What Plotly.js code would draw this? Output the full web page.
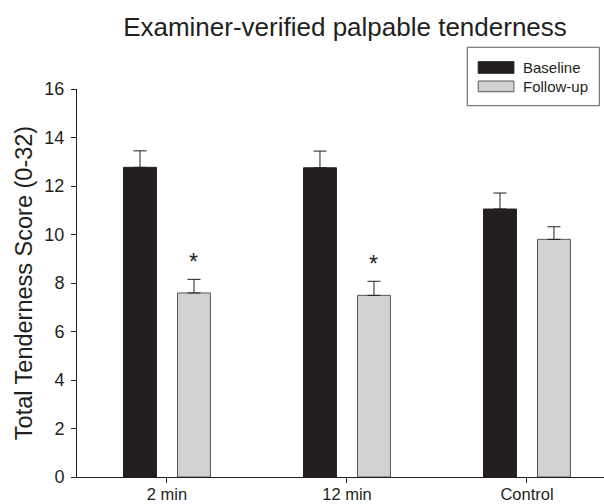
<!DOCTYPE html>
<html>
<head>
<meta charset="utf-8">
<script src="https://cdn.plot.ly/plotly-3.0.1.min.js"></script>
<style>html,body{margin:0;padding:0;background:#fff;}#chart{width:604px;height:504px;}</style>
</head>
<body>
<div id="chart"></div>
<script>
// ---- data ----
var categories = ["2 min", "12 min", "Control"];
var seriesNames = ["Baseline", "Follow-up"];
var baseline = [12.77, 12.75, 11.05];
var baselineErr = [0.68, 0.69, 0.66];
var followUp = [7.59, 7.49, 9.80];
var followUpErr = [0.56, 0.58, 0.52];
var significant = [true, true, false];
var yTicks = [0, 2, 4, 6, 8, 10, 12, 14, 16];

var ink = "#231f20";
var baseFill = "#231f20";
var followFill = "#d1d2d4";
var followLine = "#58595b";
var fontFam = "Liberation Sans, Arial, Helvetica, sans-serif";

var traces = [
  {
    type: "bar", name: seriesNames[0], x: categories, y: baseline,
    marker: {color: baseFill, line: {color: ink, width: 1}},
    error_y: {type: "data", symmetric: false, array: baselineErr, arrayminus: baselineErr.map(function(){return 0;}),
              color: ink, thickness: 1, width: 6.5},
    showlegend: false, hoverinfo: "skip"
  },
  {
    type: "bar", name: seriesNames[1], x: categories, y: followUp,
    marker: {color: followFill, line: {color: followLine, width: 1}},
    error_y: {type: "data", symmetric: false, array: followUpErr, arrayminus: followUpErr.map(function(){return 0;}),
              color: ink, thickness: 1, width: 6.5},
    showlegend: false, hoverinfo: "skip"
  }
];

var annotations = [];
categories.forEach(function(c, i){
  if (significant[i]) {
    annotations.push({
      x: c, xref: "x", xshift: 27,
      y: followUp[i] + followUpErr[i], yref: "y", yshift: 2,
      yanchor: "bottom", xanchor: "center",
      text: "*", showarrow: false,
      font: {family: fontFam, size: 23, color: ink}
    });
  }
});

// legend (drawn in paper coordinates)
var legendText = [
  {label: seriesNames[0], y: 1.0554},
  {label: seriesNames[1], y: 1.0064}
];
legendText.forEach(function(l){
  annotations.push({
    x: 0.8424, xref: "paper", xanchor: "left",
    y: l.y, yref: "paper", yanchor: "middle",
    text: l.label, showarrow: false,
    font: {family: fontFam, size: 15, color: ink}
  });
});

var shapes = [
  {type: "rect", xref: "paper", yref: "paper", x0: 0.7405, x1: 0.9911, y0: 0.9569, y1: 1.1076,
   line: {color: "#58595b", width: 1}, fillcolor: "#ffffff"},
  {type: "rect", xref: "paper", yref: "paper", x0: 0.7613, x1: 0.8291, y0: 1.0405, y1: 1.0704,
   line: {color: ink, width: 1}, fillcolor: baseFill},
  {type: "rect", xref: "paper", yref: "paper", x0: 0.7613, x1: 0.8291, y0: 0.9930, y1: 1.0206,
   line: {color: followLine, width: 1}, fillcolor: followFill}
];

var layout = {
  width: 604, height: 504,
  margin: {l: 77, r: 0, t: 89, b: 27, pad: 0},
  paper_bgcolor: "#ffffff", plot_bgcolor: "#ffffff",
  font: {family: fontFam, color: ink, size: 16},
  title: {
    text: "Examiner-verified palpable tenderness",
    font: {family: fontFam, size: 26, color: ink},
    xref: "paper", x: 0.5085, xanchor: "center",
    yref: "container", y: 0.946, yanchor: "middle"
  },
  barmode: "group", bargap: 0.4, bargroupgap: 0.39,
  xaxis: {
    type: "category", range: [-0.5, 2.428],
    showline: true, linecolor: ink, linewidth: 1,
    ticks: "outside", ticklen: 5, tickcolor: ink, tickwidth: 1,
    showgrid: false, zeroline: false,
    tickfont: {family: fontFam, size: 16.5, color: ink},
    ticklabelstandoff: -3,
    fixedrange: true
  },
  yaxis: {
    range: [0, 16], tickvals: yTicks, ticktext: yTicks.map(String),
    showline: true, linecolor: ink, linewidth: 1,
    ticks: "outside", ticklen: 5, tickcolor: ink, tickwidth: 1,
    showgrid: false, zeroline: false,
    tickfont: {family: fontFam, size: 18, color: ink},
    ticklabelstandoff: 3,
    title: {text: "Total Tenderness Score (0-32)", font: {family: fontFam, size: 23.5, color: ink}, standoff: 5},
    fixedrange: true
  },
  shapes: shapes,
  annotations: annotations,
  showlegend: false
};

Plotly.newPlot("chart", traces, layout, {staticPlot: true, displayModeBar: false});
</script>
</body>
</html>
